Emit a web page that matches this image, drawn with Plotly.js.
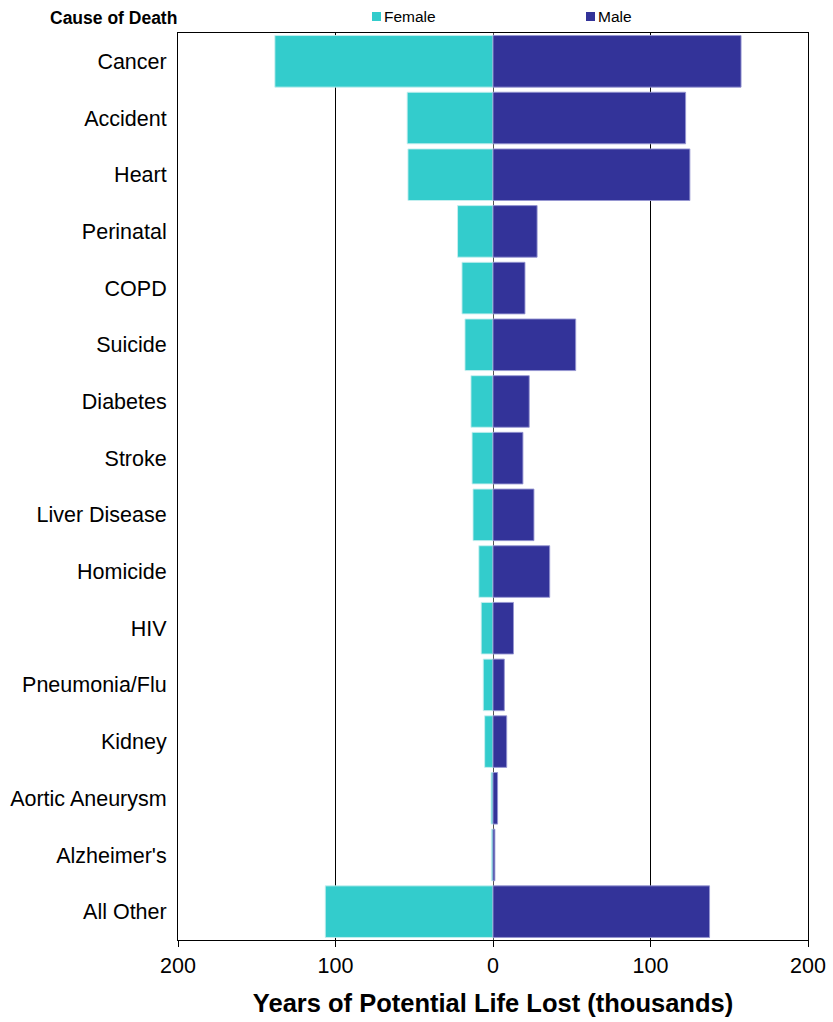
<!DOCTYPE html>
<html>
<head>
<meta charset="utf-8">
<script src="https://cdn.plot.ly/plotly-3.0.1.min.js"></script>
<style>html,body{margin:0;padding:0;background:#fff;}#chart{width:833px;height:1022px;}</style>
</head>
<body>
<div id="chart"></div>
<script>
const causes = ["Cancer","Accident","Heart","Perinatal","COPD","Suicide","Diabetes","Stroke","Liver Disease","Homicide","HIV","Pneumonia/Flu","Kidney","Aortic Aneurysm","Alzheimer's","All Other"];
const female = [138.5, 54.5, 54, 22.5, 19.7, 17.8, 14, 13.3, 12.7, 9, 7.5, 6.2, 5.3, 1.2, 1.0, 106.5];
const male   = [157.5, 122.3, 125, 28, 20.3, 52.5, 23, 19, 26, 36, 13, 7.2, 8.7, 2.9, 1.2, 137.5];
const tickVals = [-200, -100, 0, 100, 200];
const tickLabels = ["200", "100", "0", "100", "200"];
const seriesNames = ["Female", "Male"];

const femaleColor = "#33CCCC";
const maleColor = "#333399";

const traces = [
  {
    type: "bar", orientation: "h", name: seriesNames[0],
    y: causes, x: female.map(v => -v),
    marker: {color: femaleColor, line: {color: "rgba(200,240,240,0.9)", width: 1}},
    hoverinfo: "skip"
  },
  {
    type: "bar", orientation: "h", name: seriesNames[1],
    y: causes, x: male,
    marker: {color: maleColor, line: {color: "rgba(150,150,210,0.9)", width: 1}},
    hoverinfo: "skip"
  }
];

const plotL = 178, plotW = 630;
const px = p => (p - plotL) / plotW;

const layout = {
  width: 833, height: 1022,
  margin: {l: 178, r: 25, t: 33, b: 82},
  paper_bgcolor: "#fff", plot_bgcolor: "#fff",
  barmode: "relative",
  bargap: 0.09,
  showlegend: false,
  font: {family: "Liberation Sans, Arial, sans-serif", color: "#000"},
  xaxis: {
    range: [-200, 200],
    tickvals: tickVals, ticktext: tickLabels,
    tickfont: {size: 21.5},
    ticks: "outside", ticklen: 6, tickcolor: "#000",
    showgrid: true, gridcolor: "#000", gridwidth: 1,
    zeroline: true, zerolinecolor: "#555", zerolinewidth: 1,
    showline: true, linecolor: "#000", linewidth: 1, mirror: true,
    title: {text: "Years of Potential Life Lost (thousands)", font: {size: 25.5, weight: "bold"}, standoff: 17},
    fixedrange: true
  },
  yaxis: {
    type: "category",
    autorange: "reversed",
    tickfont: {size: 21.5},
    ticks: "", ticklen: 0,
    ticklabelstandoff: 6,
    showgrid: false, zeroline: false,
    showline: true, linecolor: "#000", linewidth: 1, mirror: true,
    fixedrange: true
  },
  shapes: [
    {type: "rect", xref: "paper", yref: "paper", x0: px(372), x1: px(381),
     ysizemode: "pixel", yanchor: 1, y0: 12, y1: 21, fillcolor: femaleColor, line: {width: 0}},
    {type: "rect", xref: "paper", yref: "paper", x0: px(586), x1: px(595),
     ysizemode: "pixel", yanchor: 1, y0: 12, y1: 21, fillcolor: maleColor, line: {width: 0}}
  ],
  annotations: [
    {xref: "paper", yref: "paper", x: 0, y: 1, xshift: 1, yshift: 15, xanchor: "right", yanchor: "middle",
     text: "<b>Cause of Death</b>", showarrow: false, font: {size: 17.5}},
    {xref: "paper", yref: "paper", x: px(382), y: 1, yshift: 17, xanchor: "left", yanchor: "middle",
     text: seriesNames[0], showarrow: false, font: {size: 15.5}},
    {xref: "paper", yref: "paper", x: px(596), y: 1, yshift: 17, xanchor: "left", yanchor: "middle",
     text: seriesNames[1], showarrow: false, font: {size: 15.5}}
  ]
};

Plotly.newPlot("chart", traces, layout, {displayModeBar: false, staticPlot: true});
</script>
</body>
</html>
